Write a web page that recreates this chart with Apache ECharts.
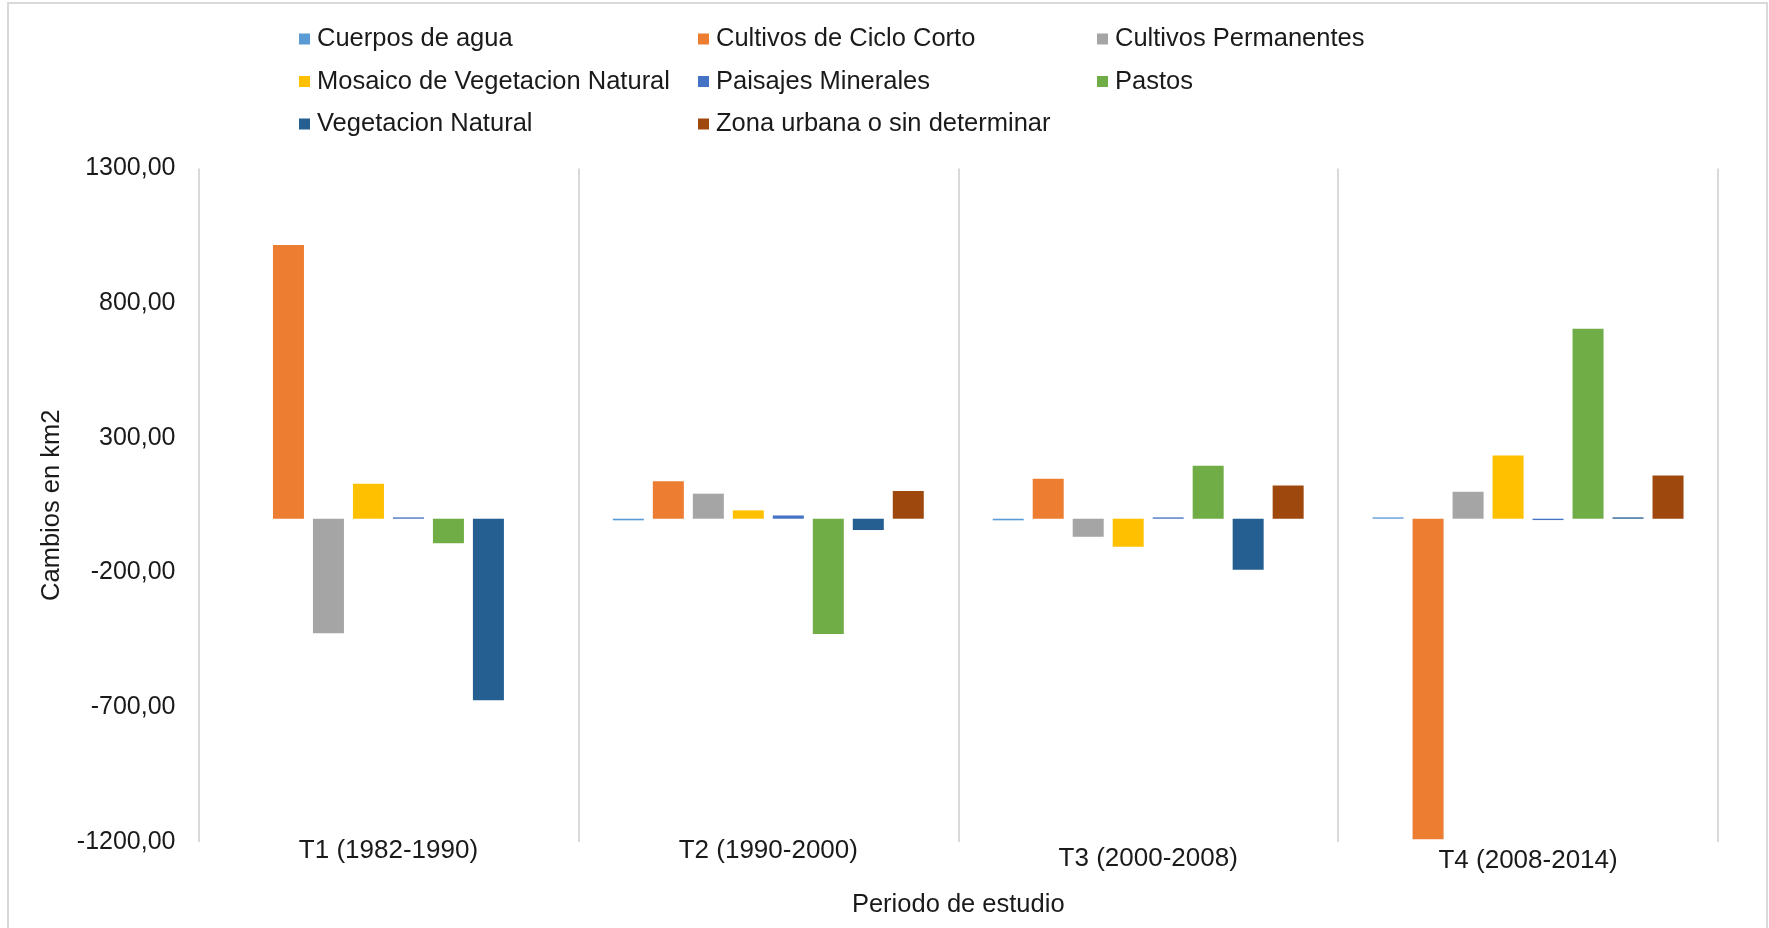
<!DOCTYPE html>
<html>
<head>
<meta charset="utf-8">
<script src="https://cdn.jsdelivr.net/npm/echarts@6/dist/echarts.min.js"></script>
<style>
html,body{margin:0;padding:0;background:#fff;}
#chart{width:1769px;height:928px;}
</style>
</head>
<body>
<div id="chart"></div>
<script>
const categories = ['T1 (1982-1990)', 'T2 (1990-2000)', 'T3 (2000-2008)', 'T4 (2008-2014)'];
const seriesNames = ['Cuerpos de agua', 'Cultivos de Ciclo Corto', 'Cultivos Permanentes', 'Mosaico de Vegetacion Natural', 'Paisajes Minerales', 'Pastos', 'Vegetacion Natural', 'Zona urbana o sin determinar'];
const cuerposDeAgua = [0, -6, -6, 5];
const cultivosCicloCorto = [1016, 139, 148, -1190];
const cultivosPermanentes = [-425, 93, -67, 100];
const mosaicoVegetacion = [130, 31, -104, 235];
const paisajesMinerales = [5, 12, 5, -5];
const pastos = [-91, -428, 197, 705];
const vegetacionNatural = [-674, -42, -189, 5];
const zonaUrbana = [0, 103, 123, 160];
const yTicks = [-1200, -700, -200, 300, 800, 1300];

const values = [cuerposDeAgua, cultivosCicloCorto, cultivosPermanentes, mosaicoVegetacion, paisajesMinerales, pastos, vegetacionNatural, zonaUrbana];
const colors = ['#5B9BD5', '#ED7D31', '#A5A5A5', '#FFC000', '#4472C4', '#70AD47', '#255E91', '#9E480E'];

const FONT = '"Liberation Sans", Arial, sans-serif';
const textColor = '#1a1a1a';

function legendCol(names, left) {
  return {
    data: names,
    orient: 'vertical',
    left: left,
    top: 21,
    itemWidth: 11,
    itemHeight: 11,
    itemGap: 16.5,
    icon: 'rect',
    selectedMode: false,
    textStyle: { fontFamily: FONT, fontSize: 25.5, color: textColor, lineHeight: 25.5, padding: [0, 0, 0, 2] }
  };
}

const chart = echarts.init(document.getElementById('chart'), null, { renderer: 'canvas' });
chart.setOption({
  backgroundColor: '#fff',
  animation: false,
  textStyle: { fontFamily: FONT },
  graphic: [{
    type: 'rect',
    shape: { x: 8, y: 3, width: 1759, height: 940 },
    style: { fill: 'none', stroke: '#d9d9d9', lineWidth: 2 },
    silent: true
  }],
  legend: [
    legendCol([seriesNames[0], seriesNames[3], seriesNames[6]], 294),
    legendCol([seriesNames[1], seriesNames[4], seriesNames[7]], 693),
    legendCol([seriesNames[2], seriesNames[5]], 1092)
  ],
  grid: { left: 198.5, right: 51, top: 168.5, bottom: 86, containLabel: false },
  xAxis: {
    type: 'category',
    data: categories,
    position: 'bottom',
    axisLine: { show: false },
    axisTick: { show: false },
    axisLabel: {
      fontFamily: FONT, fontSize: 26, color: textColor, margin: -4,
      formatter: (v, i) => i === 3 ? '{d|' + v + '}' : (i === 2 ? '{c|' + v + '}' : v),
      rich: {
        c: { fontFamily: FONT, fontSize: 26, color: textColor, padding: [8, 0, 0, 0] },
        d: { fontFamily: FONT, fontSize: 26, color: textColor, padding: [10, 0, 0, 0] }
      }
    },
    splitLine: { show: true, lineStyle: { color: '#d9d9d9', width: 2 } },
    name: 'Periodo de estudio',
    nameLocation: 'middle',
    nameGap: 50,
    nameTextStyle: { fontFamily: FONT, fontSize: 25.5, color: textColor }
  },
  yAxis: {
    type: 'value',
    min: -1200,
    max: 1300,
    axisLine: { show: false },
    axisTick: { show: false },
    splitLine: { show: false },
    axisLabel: {
      customValues: yTicks,
      fontFamily: FONT, fontSize: 25, color: textColor, margin: 23,
      formatter: v => v.toFixed(2).replace('.', ',')
    },
    name: 'Cambios en km2',
    nameLocation: 'middle',
    nameRotate: 90,
    nameGap: 134,
    nameTextStyle: { fontFamily: FONT, fontSize: 25.5, color: textColor }
  },
  series: seriesNames.map((n, i) => ({
    name: n,
    type: 'bar',
    data: values[i],
    barWidth: 31,
    barGap: '29%',
    itemStyle: { color: colors[i] }
  }))
});
</script>
</body>
</html>
